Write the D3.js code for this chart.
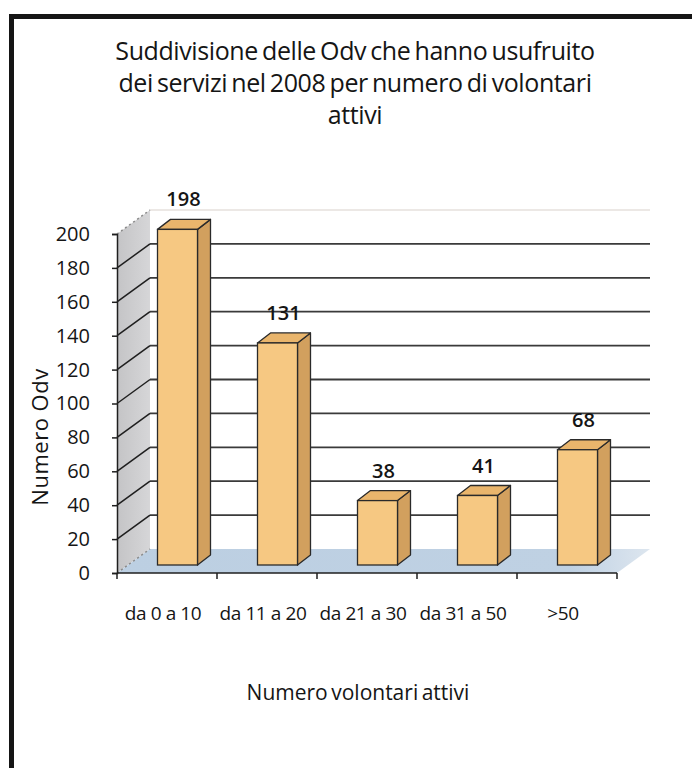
<!DOCTYPE html>
<html lang="it">
<head>
<meta charset="UTF-8">
<title>Suddivisione delle Odv</title>
<style>
  body { margin: 0; background: #fff; }
  text { font-family: "Open Sans", "DejaVu Sans", sans-serif; fill: #151515; }
</style>
</head>
<body>
<div id="chart"></div>
<script src="https://d3js.org/d3.v7.min.js"></script>
<script>
// data
const categories = ['da 0 a 10', 'da 11 a 20', 'da 21 a 30', 'da 31 a 50', '>50'];
const values = [198, 131, 38, 41, 68];
const yTicks = [0, 20, 40, 60, 80, 100, 120, 140, 160, 180, 200];
const titleLines = ['Suddivisione delle Odv che hanno usufruito', 'dei servizi nel 2008 per numero di volontari', 'attivi'];

const width = 694, height = 768;
const svg = d3.select('#chart').append('svg')
    .attr('width', width).attr('height', height);

// frame (top and left thick border)
svg.append('path')
    .attr('d', 'M11.5,768 L11.5,16.5 L692,16.5')
    .attr('fill', 'none').attr('stroke', '#151515').attr('stroke-width', 5);

// scales for the front plane
const x = d3.scaleBand().domain(categories).range([117, 617])
    .paddingInner(0.6).paddingOuter(0.3);
const y = d3.scaleLinear().domain([0, 200]).range([573, 234]);

// 3d offsets
const wall = { dx: 33, dy: -24 };   // full depth of the chart box
const barOff = { dx: 10.5, dy: -8 }; // where the bar front face sits
const barDepth = { dx: 13, dy: -10 };

const defs = svg.append('defs');
const gWall = defs.append('linearGradient').attr('id', 'wallGrad')
    .attr('x1', 0).attr('x2', 1).attr('y1', 0).attr('y2', 0);
gWall.append('stop').attr('offset', 0).attr('stop-color', '#c4c4c6');
gWall.append('stop').attr('offset', 1).attr('stop-color', '#d6d6d8');
const gFloor = defs.append('linearGradient').attr('id', 'floorGrad')
    .attr('x1', 0).attr('x2', 1).attr('y1', 0).attr('y2', 0);
gFloor.append('stop').attr('offset', 0).attr('stop-color', '#bccfe2');
gFloor.append('stop').attr('offset', 0.85).attr('stop-color', '#bfd1e3');
gFloor.append('stop').attr('offset', 1).attr('stop-color', '#dde6ef');

const x0 = x.range()[0], x1 = x.range()[1];

// left side wall
svg.append('path')
    .attr('d', `M${x0},${y(200)} L${x0 + wall.dx},${y(200) + wall.dy} L${x0 + wall.dx},${y(0) + wall.dy} L${x0},${y(0)} Z`)
    .attr('fill', 'url(#wallGrad)');

// floor
svg.append('path')
    .attr('d', `M${x0},${y(0)} L${x0 + wall.dx},${y(0) + wall.dy} L${x1 + wall.dx},${y(0) + wall.dy} L${x1},${y(0)} Z`)
    .attr('fill', 'url(#floorGrad)');

// back wall gridlines
svg.selectAll('.grid').data(yTicks.filter(d => d > 0)).enter()
    .append('line')
    .attr('x1', x0 + wall.dx).attr('x2', x1 + wall.dx)
    .attr('y1', d => y(d) + wall.dy).attr('y2', d => y(d) + wall.dy)
    .attr('stroke', d => d === 200 ? '#e6e0dc' : '#3a3a3a')
    .attr('stroke-width', d => d === 200 ? 1.5 : 1.8);

// diagonal lines on the side wall
svg.selectAll('.diag').data(yTicks).enter()
    .append('line')
    .attr('x1', x0).attr('x2', x0 + wall.dx)
    .attr('y1', d => y(d)).attr('y2', d => y(d) + wall.dy)
    .attr('stroke', d => (d === 0 || d === 200) ? '#8a8a8a' : '#1f1f1f')
    .attr('stroke-dasharray', d => (d === 0 || d === 200) ? '2,3' : null)
    .attr('stroke-width', 1.5);

// bars
const barBase = y(0) + barOff.dy;
const bars = svg.selectAll('.bar').data(values).enter().append('g');
bars.each(function (v, i) {
    const g = d3.select(this);
    const fx = x(categories[i]) + barOff.dx;
    const w = x.bandwidth();
    const top = y(v) + barOff.dy;
    const dx = barDepth.dx, dy = barDepth.dy;
    // side face
    g.append('path')
        .attr('d', `M${fx + w},${top} L${fx + w + dx},${top + dy} L${fx + w + dx},${barBase + dy} L${fx + w},${barBase} Z`)
        .attr('fill', '#d2a05e').attr('stroke', '#2a2a2a').attr('stroke-width', 1.3)
        .attr('stroke-linejoin', 'round');
    // top face
    g.append('path')
        .attr('d', `M${fx},${top} L${fx + dx},${top + dy} L${fx + w + dx},${top + dy} L${fx + w},${top} Z`)
        .attr('fill', '#e9b56c').attr('stroke', '#2a2a2a').attr('stroke-width', 1.3)
        .attr('stroke-linejoin', 'round');
    // front face
    g.append('rect')
        .attr('x', fx).attr('y', top).attr('width', w).attr('height', barBase - top)
        .attr('fill', '#f6c882').attr('stroke', '#2a2a2a').attr('stroke-width', 1.3);
    // value label
    g.append('text')
        .attr('x', fx + w / 2 + 6).attr('y', top - 23)
        .attr('text-anchor', 'middle')
        .attr('font-size', 20).attr('font-weight', 600)
        .text(v);
});

// y axis
const yAxis = svg.append('g').attr('transform', `translate(${x0},0)`)
    .call(d3.axisLeft(y).tickValues(yTicks).tickSize(5).tickPadding(22));
yAxis.select('.domain').attr('stroke', '#1f1f1f').attr('stroke-width', 1.5);
yAxis.selectAll('.tick line').attr('stroke', '#1f1f1f').attr('stroke-width', 1.5);
yAxis.selectAll('.tick text').attr('font-size', 20)
    .attr('font-family', '"Open Sans", sans-serif').attr('fill', '#151515');

// x axis line with ticks at category boundaries
const step = x.step();
const bounds = categories.map(c => x(c) - (step - x.bandwidth()) / 2).concat([x1]);
svg.append('line')
    .attr('x1', x0).attr('x2', x1).attr('y1', y(0)).attr('y2', y(0))
    .attr('stroke', '#1f1f1f').attr('stroke-width', 1.5);
svg.selectAll('.xtick').data(bounds).enter().append('line')
    .attr('x1', d => d).attr('x2', d => d)
    .attr('y1', y(0)).attr('y2', y(0) + 6)
    .attr('stroke', '#1f1f1f').attr('stroke-width', 1.5);

// category labels
svg.selectAll('.xlab').data(categories).enter().append('text')
    .attr('x', d => x(d) + x.bandwidth() / 2 - 4)
    .attr('y', 620)
    .attr('text-anchor', 'middle')
    .attr('font-size', 19)
    .attr('letter-spacing', -0.4)
    .text(d => d);

// titles
svg.selectAll('.title').data(titleLines).enter().append('text')
    .attr('x', 355).attr('y', (d, i) => 60 + i * 32)
    .attr('text-anchor', 'middle')
    .attr('font-size', 25)
    .attr('letter-spacing', -0.4)
    .attr('word-spacing', -2)
    .text(d => d);

svg.append('text')
    .attr('x', 358).attr('y', 700)
    .attr('text-anchor', 'middle')
    .attr('font-size', 21)
    .attr('word-spacing', -2)
    .text('Numero volontari attivi');

svg.append('text')
    .attr('transform', 'translate(48,437) rotate(-90)')
    .attr('text-anchor', 'middle')
    .attr('font-size', 22)
    .attr('letter-spacing', 0.5)
    .text('Numero Odv');
</script>
</body>
</html>
